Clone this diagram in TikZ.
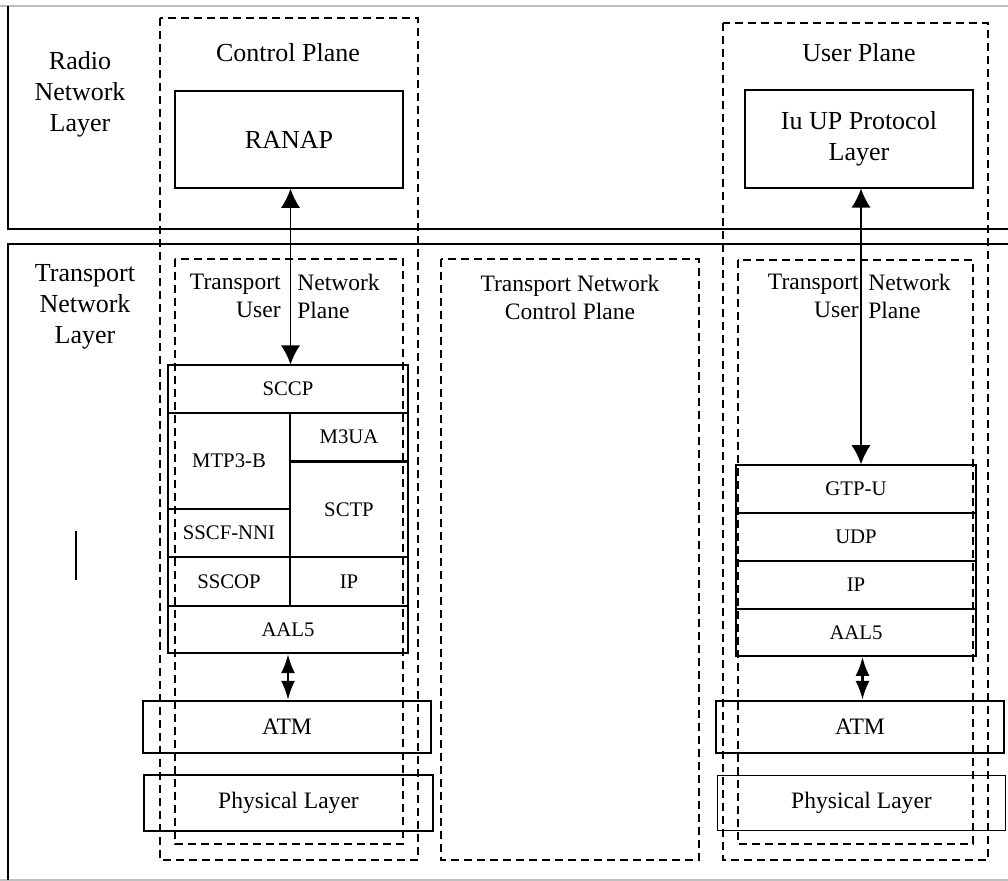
\documentclass[tikz,border=0pt]{standalone}
\usepackage{fontspec}
\setmainfont{Liberation Serif}
\usetikzlibrary{arrows.meta}
\definecolor{pagerule}{gray}{0.75}
\tikzstyle{layerbox}=[draw,line width=0.9pt,inner sep=0pt,font=\fontsize{11.8}{14}\selectfont]
\tikzstyle{phybox}=[layerbox,font=\fontsize{13.4}{16}\selectfont]
\tikzstyle{appbox}=[layerbox,align=center,font=\fontsize{14.8}{17.6}\selectfont]
\tikzstyle{planebox}=[dash pattern=on 0.16cm off 0.1cm,line width=1.1pt]
\tikzstyle{heading}=[align=center,inner sep=0pt,font=\fontsize{14.8}{17.6}\selectfont]
\tikzstyle{subheading}=[inner sep=0pt,font=\fontsize{13.4}{15.9}\selectfont]
\tikzstyle{duplex}=[{Latex[length=0.38cm,width=0.38cm]}-{Latex[length=0.38cm,width=0.38cm]},line width=0.8pt]
\tikzstyle{shortduplex}=[{Latex[length=0.38cm,width=0.28cm]}-{Latex[length=0.38cm,width=0.28cm]},line width=1.5pt]
\begin{document}
\begin{tikzpicture}[x=0.02cm,y=-0.02cm]
\useasboundingbox (0,0) rectangle (1008,881);
\draw[pagerule,line width=0.6pt] (0,6) -- (1008,6);
\draw[pagerule,line width=0.6pt] (0,880) -- (1008,880);
\draw[line width=1.1pt] (8,6) -- (8,229) -- (1008,229);
\draw[line width=1.1pt] (1008,244) -- (8,244) -- (8,880);
\draw[line width=0.8pt] (76,531) -- (76,580);
\node[heading] (rnl) at (80,94) {Radio\\Network\\Layer};
\node[heading] (tnl) at (85,307) {Transport\\Network\\Layer};
\draw[planebox] (160,18) rectangle (418,860);
\draw[planebox] (175,259) rectangle (403,844);
\draw[planebox] (441,259) rectangle (699,860);
\draw[planebox] (723,23) rectangle (988,860);
\draw[planebox] (738,260) rectangle (973,844);
\node[heading] (cptitle) at (288,53) {Control Plane};
\node[heading] (uptitle) at (859,53) {User Plane};
\node[subheading,align=center] (tncp) at (570,297) {Transport Network\\Control Plane};
\node[subheading,align=right,anchor=east] (tnupl1) at (281,296) {Transport\\User};
\node[subheading,align=left,anchor=west] (tnupl2) at (297,296) {Network\\Plane};
\node[subheading,align=right,anchor=east] (tnupr1) at (859,296) {Transport\\User};
\node[subheading,align=left,anchor=west] (tnupr2) at (868,296) {Network\\Plane};
\node[appbox,minimum width=4.56cm,minimum height=1.94cm] (ranap) at (289,139.5) {RANAP};
\node[appbox,minimum width=4.55cm,minimum height=1.95cm] (iuup) at (859,139) {Iu UP Protocol\\Layer};
\node[layerbox,minimum width=4.8cm,minimum height=0.95cm] (sccp) at (288,389) {SCCP};
\node[layerbox,minimum width=2.44cm,minimum height=1.92cm] (mtp) at (229,461) {MTP3-B};
\node[layerbox,minimum width=2.36cm,minimum height=0.97cm] (m3ua) at (349,437) {M3UA};
\node[layerbox,minimum width=2.36cm,minimum height=1.9cm] (sctp) at (349,509.5) {SCTP};
\node[layerbox,minimum width=2.44cm,minimum height=0.96cm] (sscf) at (229,533) {SSCF-NNI};
\node[layerbox,minimum width=2.44cm,minimum height=0.97cm] (sscop) at (229,581.5) {SSCOP};
\node[layerbox,minimum width=2.36cm,minimum height=0.97cm] (ipl) at (349,581.5) {IP};
\node[layerbox,minimum width=4.8cm,minimum height=0.95cm] (aal5l) at (288,629.5) {AAL5};
\node[phybox,minimum width=5.77cm,minimum height=1.05cm] (atml) at (287,727) {ATM};
\node[phybox,minimum width=5.77cm,minimum height=1.11cm] (phyl) at (288.5,803) {Physical Layer};
\node[layerbox,minimum width=4.8cm,minimum height=0.96cm] (gtpu) at (856,489) {GTP-U};
\node[layerbox,minimum width=4.8cm,minimum height=0.96cm] (udp) at (856,537) {UDP};
\node[layerbox,minimum width=4.8cm,minimum height=0.96cm] (ipr) at (856,585) {IP};
\node[layerbox,minimum width=4.8cm,minimum height=0.94cm] (aal5r) at (856,632.5) {AAL5};
\node[phybox,minimum width=5.76cm,minimum height=1.05cm] (atmr) at (860,727) {ATM};
\node[phybox,minimum width=5.76cm,minimum height=1.1cm] (phyr) at (861.5,803) {Physical Layer};
\draw[duplex] ([xshift=0.03cm]ranap.south) -- ([xshift=0.03cm]ranap.south |- sccp.north);
\draw[duplex] ([xshift=0.04cm]iuup.south) -- ([xshift=0.04cm]iuup.south |- gtpu.north);
\draw[shortduplex] (aal5l.south) -- (aal5l.south |- atml.north);
\draw[shortduplex] ([xshift=0.13cm]aal5r.south) -- ([xshift=0.13cm]aal5r.south |- atmr.north);
\end{tikzpicture}
\end{document}
